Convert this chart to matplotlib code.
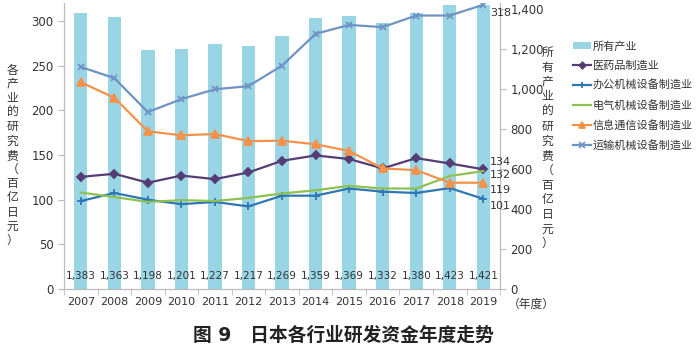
import matplotlib
matplotlib.use("Agg")
import matplotlib.pyplot as plt
import matplotlib.transforms as mtransforms
import numpy as np

plt.rcParams['font.family'] = ['DejaVu Sans', 'Noto Sans CJK SC']

# 数据（百亿日元）
years = ['2007', '2008', '2009', '2010', '2011', '2012', '2013',
         '2014', '2015', '2016', '2017', '2018', '2019']
all_industry = [1383, 1363, 1198, 1201, 1227, 1217, 1269, 1359, 1369, 1332, 1380, 1423, 1421]
pharma = [125.5, 129, 119, 127, 123, 130.5, 143.5, 149.5, 145.5, 135, 146.5, 140.5, 134]
office = [98.5, 107.5, 100, 95, 97.5, 92.5, 104.5, 104.5, 112.5, 109, 107.5, 113, 101]
electric = [108, 103, 97.5, 99.5, 98.5, 102, 107, 110.5, 115.5, 112.5, 112.5, 126.5, 132]
info = [231.5, 214, 176.5, 172, 173.5, 165.5, 166, 162, 154.5, 135, 133, 119, 119]
transport = [248.5, 236, 198, 212.5, 223.5, 227, 250, 285.5, 295.5, 293, 306, 306, 318]

x = np.arange(len(years))

fig = plt.figure(figsize=(7, 3.53), dpi=100)
ax = fig.add_axes([0.0914, 0.181, 0.623, 0.8105])
ax2 = ax.twinx()

# 柱：所有产业（右轴）
bar_c = '#9AD5E6'
ax2.bar(x, all_industry, width=0.4, color=bar_c, zorder=1, label='所有产业')
ax2.set_ylim(0, 1432)
ax2.set_yticks(range(0, 1401, 200))
ax2.set_yticklabels(['0', '200', '400', '600', '800', '1,000', '1,200', '1,400'], fontsize=8.5)
trans = mtransforms.blended_transform_factory(ax2.transData, ax2.transAxes)
for xi, v in zip(x, all_industry):
    ax2.text(xi, 0.045, f'{v:,}', transform=trans, ha='center', va='center',
             fontsize=7.5, color='#333333', zorder=5)

# 折线（左轴），放在柱子上方
ax.set_zorder(ax2.get_zorder() + 1)
ax.patch.set_visible(False)
series = [
    ('医药品制造业', pharma, '#553C74', 'D', 4),
    ('办公机械设备制造业', office, '#2F77B4', '+', 6),
    ('电气机械设备制造业', electric, '#8DC152', None, 0),
    ('信息通信设备制造业', info, '#F4924A', '^', 6),
    ('运输机械设备制造业', transport, '#6F93C2', 'x', 5),
]
for name, vals, c, m, ms in series:
    ax.plot(x, vals, color=c, lw=1.6, marker=m, ms=ms, mew=1.3, label=name)

ax.set_ylim(0, 320)
ax.set_yticks(range(0, 301, 50))
ax.tick_params(axis='y', labelsize=8.5)
ax.set_xlim(-0.5, len(years) - 0.5)
ax.set_xticks(x)
ax.set_xticklabels(years, fontsize=8)
ax.set_xticks(np.arange(-0.5, len(years), 1), minor=True)
ax.tick_params(axis='x', which='major', length=0, pad=6)
ax.tick_params(axis='x', which='minor', length=4, color='#BBBBBB')
ax.tick_params(axis='y', length=4, color='#BBBBBB', colors='#333333')
ax2.tick_params(axis='y', length=4, color='#BBBBBB', colors='#333333')
ax.tick_params(axis='x', colors='#333333')
ax.tick_params(axis='x', which='minor', color='#BBBBBB')
for a in (ax, ax2):
    a.spines['top'].set_visible(False)
    for s in ('left', 'right', 'bottom'):
        a.spines[s].set_color('#BBBBBB')

# 末端数值标签
end_labels = [(transport[-1], -6), (pharma[-1], 5), (electric[-1], -3),
              (info[-1], -5), (office[-1], -5)]
for v, dy in end_labels:
    ax.annotate(f'{v:.0f}', (x[-1], v), xytext=(5, dy), textcoords='offset points',
                ha='left', va='center', fontsize=8, color='#333333', zorder=6)

# 坐标轴标题（竖排）
left_lab = '各产业的研究费（百亿日元）'
right_lab = '所有产业的研究费（百亿日元）'
fig.text(0.018, 0.56, '\n'.join(left_lab), ha='center', va='center',
         fontsize=8.5, linespacing=1.12, color='#333333')
fig.text(0.782, 0.58, '\n'.join(right_lab), ha='center', va='center',
         fontsize=8.5, linespacing=1.17, color='#333333')
fig.text(0.726, 0.138, '（年度）', ha='left', va='center', fontsize=8.5, color='#333333')

# 图例
h1, l1 = ax2.get_legend_handles_labels()
h2, l2 = ax.get_legend_handles_labels()
leg = fig.legend(h1 + h2, l1 + l2, loc='upper left', bbox_to_anchor=(0.812, 0.897),
                 frameon=False, fontsize=8, handlelength=1.6, handletextpad=0.2,
                 labelspacing=0.82, borderaxespad=0, markerscale=0.8)
for t in leg.get_texts():
    t.set_color('#333333')

fig.text(0.49, 0.05, '图 9\u3000日本各行业研发资金年度走势', ha='center', va='center',
         fontsize=13.5, fontweight='bold', color='#222222')

fig.savefig('out.png', dpi=100)
